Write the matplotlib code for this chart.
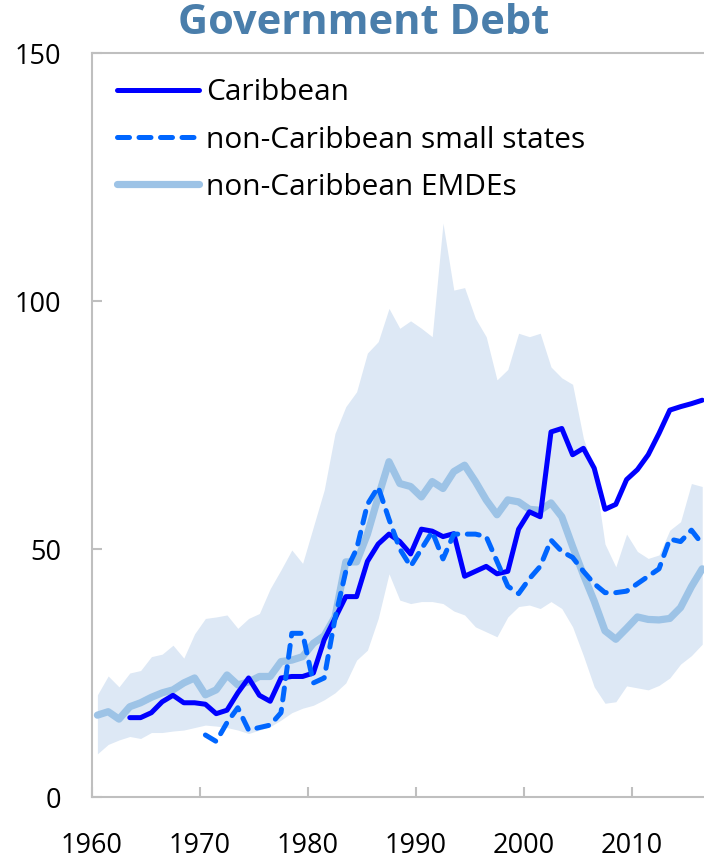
import numpy as np
import matplotlib
matplotlib.use("Agg")
import matplotlib.pyplot as plt

plt.rcParams['font.family'] = ['Open Sans', 'DejaVu Sans']

# annual data, plotted at mid-year
years = np.arange(1960, 2017)

caribbean_years = np.arange(1963, 2017)
caribbean = [16, 16, 17, 19.2, 20.5, 19, 19, 18.7, 16.8, 17.5,
             21, 24, 20.5, 19.3, 24, 24.3, 24.3, 25, 31.7, 36,
             40.4, 40.4, 47.5, 51, 53, 51.5, 49, 54, 53.6, 52.5,
             53.1, 44.5, 45.5, 46.5, 45, 45.5, 54, 57.5, 56.5, 73.6,
             74.3, 69, 70.3, 66.3, 58, 59, 64, 66, 69, 73.3,
             78, 78.7, 79.3, 80]

small_years = np.arange(1970, 2017)
small_states = [12.5, 11.2, 15, 18, 13.5, 14, 14.5, 17, 33, 33,
                23, 24, 36, 45.5, 50, 59, 62.5, 56, 50, 46.5,
                50, 53.5, 48, 53, 53, 53, 52.5, 47.5, 42.5, 41,
                44, 46.5, 51.8, 49.5, 48.3, 45.5, 43, 41.2, 41.2, 41.5,
                43, 44.5, 46, 52, 51.5, 53.8, 51]

emde_median = [16.5, 17.2, 15.7, 18.2, 19, 20.1, 21, 21.6, 23, 24,
               20.6, 21.6, 24.6, 22.6, 23.2, 24.3, 24.3, 27.3, 27.6, 28.3,
               31, 32.5, 36.3, 47.4, 47.4, 53, 60.5, 67.6, 63.2, 62.6,
               60.5, 63.6, 62.2, 65.6, 66.9, 63.6, 59.9, 56.9, 59.9, 59.5,
               58, 57.8, 59.3, 56.5, 50.5, 44.8, 39.5, 33.5, 31.8, 34,
               36.3, 35.8, 35.7, 36, 38.2, 42.4, 46]

emde_upper = [20.6, 24.4, 22.2, 25, 25.5, 28.3, 28.8, 30.6, 28, 32.9,
              36, 36.3, 36.7, 34, 36, 37, 42, 45.8, 49.8, 47.1,
              54.5, 61.9, 73.3, 78.7, 81.7, 89.5, 91.8, 98.5, 94.5, 96,
              94.5, 92.8, 115.7, 102.2, 102.7, 96.5, 92.8, 84.1, 86.2, 93.5,
              92.8, 93.5, 86.7, 84.5, 83.2, 72.3, 65.9, 51, 46.4, 53,
              49.5, 48.1, 48.8, 53.8, 55.5, 63.2, 62.6]

emde_lower = [8.7, 10.6, 11.5, 12.2, 11.8, 13, 13, 13.3, 13.5, 14,
              14.5, 14.3, 14, 13.5, 12.8, 13.5, 14.2, 15.5, 17, 17.9,
              18.5, 19.6, 21, 23, 27.6, 29.6, 36, 45, 39.7, 39,
              39.4, 39.4, 39, 37.5, 36.7, 34.3, 33.3, 32.3, 36.3, 38.4,
              38.7, 38, 39.4, 38, 34.3, 28.5, 22.2, 18.9, 19.2, 22.4,
              22, 21.6, 22.5, 24, 26.8, 28.5, 30.8]

fig = plt.figure(figsize=(7.04, 8.59), dpi=100)
ax = fig.add_axes([92 / 704, 1 - 797 / 859, (707.6 - 92) / 704, (797 - 53) / 859])

ax.fill_between(years + 0.5, emde_lower, emde_upper, color='#dde8f5', lw=0)
ax.plot(years + 0.5, emde_median, color='#9dc3e6', lw=5.2,
        solid_capstyle='round', solid_joinstyle='round', label='non-Caribbean EMDEs')
ax.plot(caribbean_years + 0.5, caribbean, color='#0000ff', lw=3.6,
        solid_capstyle='round', solid_joinstyle='round', label='Caribbean')
ax.plot(small_years + 0.5, small_states, color='#0066ff', lw=3.6,
        linestyle=(0, (2.4, 1.9)), dash_capstyle='round', dash_joinstyle='round',
        label='non-Caribbean small states')

ax.set_xlim(1960, 2017)
ax.set_ylim(0, 150)
ax.set_xticks(range(1960, 2011, 10))
ax.set_yticks([0, 50, 100, 150])

for s in ax.spines.values():
    s.set_color('#bfbfbf')
    s.set_linewidth(1.5)
ax.spines['right'].set_visible(False)
ax.tick_params(axis='both', direction='in', length=7, width=1.5, color='#bfbfbf',
               labelsize=19.5, labelcolor='black')
ax.tick_params(axis='y', pad=22)
ax.tick_params(axis='x', pad=25)

handles, labels = ax.get_legend_handles_labels()
order = [1, 2, 0]
ax.legend([handles[i] for i in order], [labels[i] for i in order],
          loc='upper left', bbox_to_anchor=(0.04, 0.966), frameon=False,
          fontsize=21.5, handlelength=2.75, handletextpad=0.25, labelspacing=0.61,
          borderaxespad=0.0, borderpad=0.0)

fig.text(364 / 704, 1 - 24 / 859, 'Government Debt', ha='center', va='center',
         fontsize=30, fontweight='bold', color='#4a7eab')

fig.savefig('out.png', dpi=100)
